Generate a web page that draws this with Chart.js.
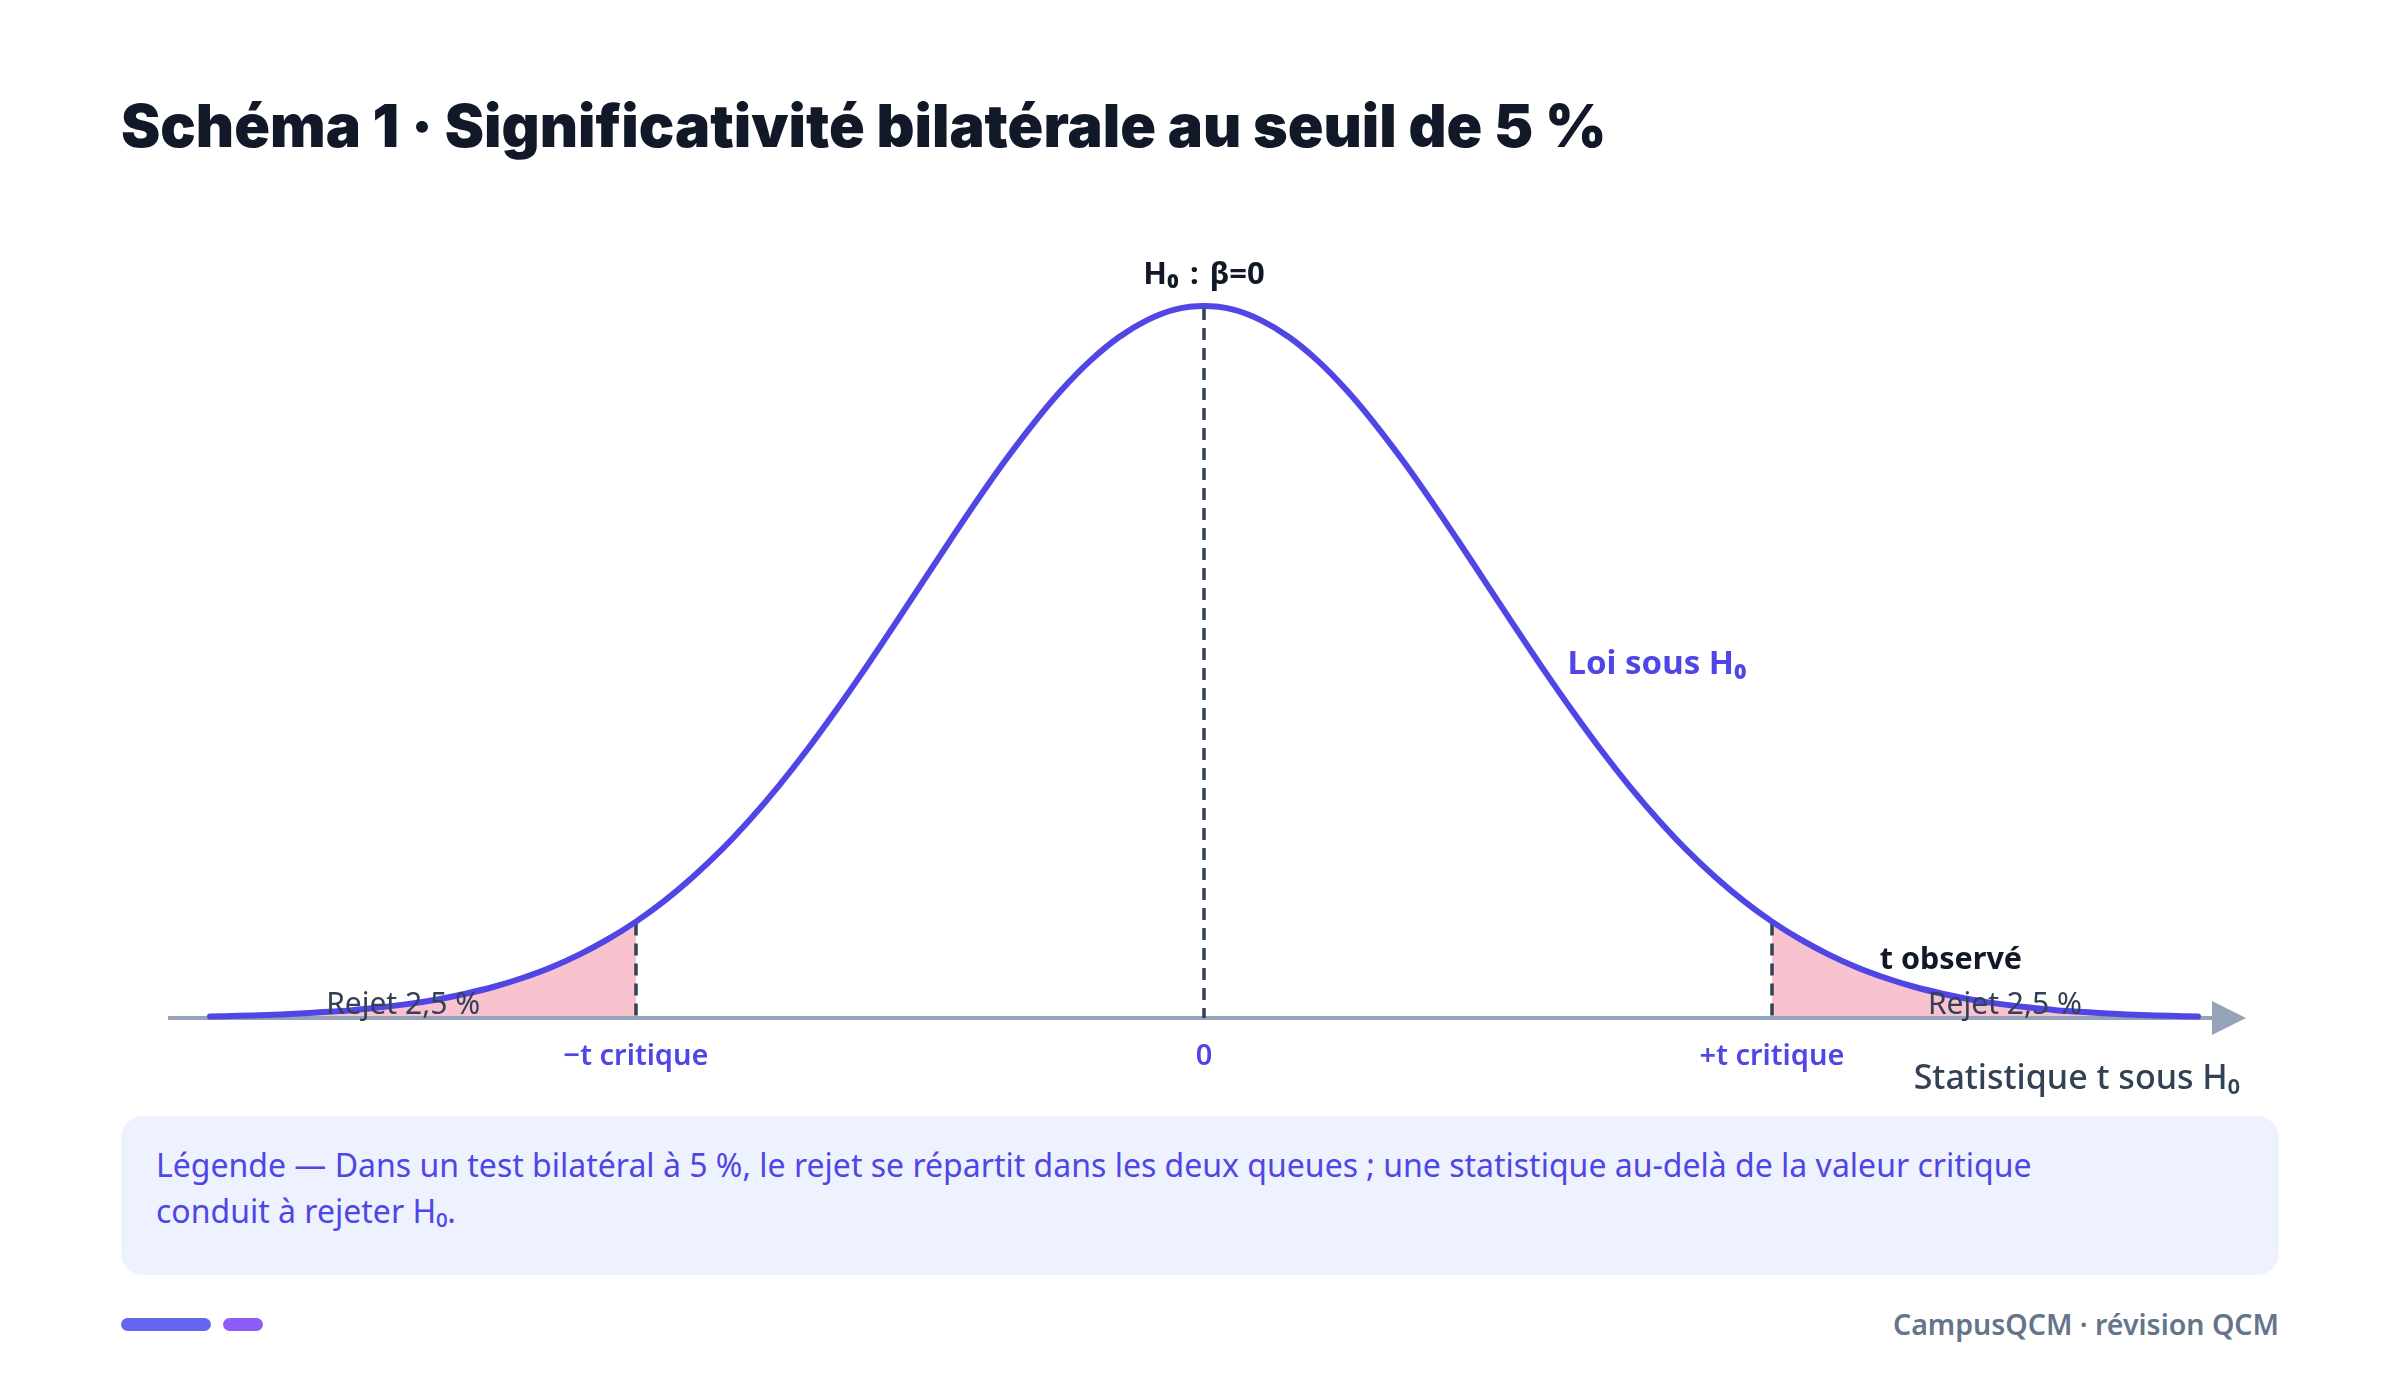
<!DOCTYPE html>
<html lang="fr">
<head>
<meta charset="utf-8">
<script src="https://cdn.jsdelivr.net/npm/chart.js@4.4.1/dist/chart.umd.min.js"></script>
<style>
  html, body { margin: 0; padding: 0; background: #ffffff; }
  body { width: 2400px; height: 1385px; position: relative; overflow: hidden; font-family: "Noto Sans", "Open Sans", sans-serif; }
  #title { position: absolute; left: 121px; top: 91px; font-family: Inter, "Noto Sans", sans-serif; font-weight: 900; font-size: 59px; line-height: 70px; color: #111827; white-space: nowrap; letter-spacing: 0px; }
  #wrap { position: absolute; left: 0; top: 0; width: 2400px; height: 1100px; }
  .lbl { position: absolute; white-space: nowrap; line-height: 1; }
  #legend { position: absolute; left: 121px; top: 1116px; width: 2158px; height: 159px; background: #EEF2FF; border-radius: 22px; box-sizing: border-box; padding: 26px 35px 0 35px; color: #4F46E5; font-size: 32px; line-height: 46px; }
  .pill { position: absolute; top: 1318px; height: 13px; border-radius: 7px; }
  #footer { position: absolute; right: 121px; top: 1306px; font-size: 28.5px; line-height: 36px; font-weight: 600; color: #64748B; white-space: nowrap; }
</style>
</head>
<body>
<div id="title">Schéma 1 · Significativité bilatérale au seuil de 5 %</div>
<div id="wrap"><canvas id="c" width="2400" height="1100"></canvas></div>
<div id="legend">Légende — Dans un test bilatéral à 5 %, le rejet se répartit dans les deux queues ; une statistique au-delà de la valeur critique<br>conduit à rejeter H₀.</div>
<div class="pill" style="left:121px;width:90px;background:#6366F1;"></div>
<div class="pill" style="left:223px;width:40px;background:#8B5CF6;"></div>
<div id="footer">CampusQCM · révision QCM</div>
<script>
// ---- data ----
const tValues = [-3.5,-3.4,-3.3,-3.2,-3.1,-3.0,-2.9,-2.8,-2.7,-2.6,-2.5,-2.4,-2.3,-2.2,-2.1,-2.0,-1.9,-1.8,-1.7,-1.6,-1.5,-1.4,-1.3,-1.2,-1.1,-1.0,-0.9,-0.8,-0.7,-0.6,-0.5,-0.4,-0.3,-0.2,-0.1,0.0,0.1,0.2,0.3,0.4,0.5,0.6,0.7,0.8,0.9,1.0,1.1,1.2,1.3,1.4,1.5,1.6,1.7,1.8,1.9,2.0,2.1,2.2,2.3,2.4,2.5,2.6,2.7,2.8,2.9,3.0,3.1,3.2,3.3,3.4,3.5];
const density = [0.0009,0.0012,0.0017,0.0024,0.0033,0.0044,0.0060,0.0079,0.0104,0.0136,0.0175,0.0224,0.0283,0.0355,0.0440,0.0540,0.0656,0.0790,0.0940,0.1109,0.1295,0.1497,0.1714,0.1942,0.2179,0.2420,0.2661,0.2897,0.3123,0.3332,0.3521,0.3683,0.3814,0.3910,0.3970,0.3989,0.3970,0.3910,0.3814,0.3683,0.3521,0.3332,0.3123,0.2897,0.2661,0.2420,0.2179,0.1942,0.1714,0.1497,0.1295,0.1109,0.0940,0.0790,0.0656,0.0540,0.0440,0.0355,0.0283,0.0224,0.0175,0.0136,0.0104,0.0079,0.0060,0.0044,0.0033,0.0024,0.0017,0.0012,0.0009];
const tickValues = [-2.0, 0.0, 2.0];
const tickLabels = ["\u2212t critique", "0", "+t critique"];
const tCritical = 2.0;
const tObserved = 2.63;
const rejectLabelT = [-2.82, 2.82];

const curve = tValues.map((t, i) => ({ x: t, y: density[i] }));
const leftTail = curve.filter(p => p.x <= -tCritical + 1e-9);
const rightTail = curve.filter(p => p.x >= tCritical - 1e-9);
const yAt = t => { const i = tValues.findIndex(v => Math.abs(v - t) < 1e-9); return density[i]; };

const C = { line: '#4F46E5', axis: '#94A3B8', dash: '#334155', fill: 'rgba(244,143,168,0.55)' };

function addLabel(text, styles) {
  const d = document.createElement('div');
  d.className = 'lbl';
  d.textContent = text;
  Object.assign(d.style, styles);
  document.getElementById('wrap').appendChild(d);
  return d;
}

const decor = {
  id: 'decor',
  beforeDatasetDraw(chart, args) {
    if (args.index !== 0) return;
    const { ctx } = chart; const xs = chart.scales.x, ys = chart.scales.y;
    const y0 = ys.getPixelForValue(0);
    const left = xs.getPixelForValue(tValues[0]) - 42;
    const tip = xs.getPixelForValue(tValues[tValues.length - 1]) + 48;
    ctx.save();
    ctx.strokeStyle = C.axis; ctx.lineWidth = 4;
    ctx.beginPath(); ctx.moveTo(left, y0); ctx.lineTo(tip - 30, y0); ctx.stroke();
    ctx.fillStyle = C.axis;
    ctx.beginPath(); ctx.moveTo(tip, y0); ctx.lineTo(tip - 34, y0 - 17); ctx.lineTo(tip - 34, y0 + 17); ctx.closePath(); ctx.fill();
    ctx.strokeStyle = C.dash; ctx.lineWidth = 3.5; ctx.setLineDash([12, 8]);
    tickValues.forEach(t => {
      const x = xs.getPixelForValue(t);
      ctx.beginPath(); ctx.moveTo(x, ys.getPixelForValue(yAt(t)) + 2); ctx.lineTo(x, y0); ctx.stroke();
    });
    ctx.restore();
  },
  afterRender(chart) {
    if (chart._lblDone) return; chart._lblDone = true;
    const xs = chart.scales.x, ys = chart.scales.y;
    const px = t => xs.getPixelForValue(t), py = v => ys.getPixelForValue(v);
    const y0 = py(0);
    tickValues.forEach((t, i) => addLabel(tickLabels[i], { left: px(t) + 'px', top: (y0 + 35) + 'px', transform: 'translate(-50%,-50%)', color: '#4F46E5', fontWeight: '600', fontSize: '29px' }));
    addLabel('H\u2080 : \u03B2=0', { left: px(0) + 'px', top: (py(yAt(0)) - 34) + 'px', transform: 'translate(-50%,-50%)', color: '#111827', fontWeight: '700', fontSize: '31px', wordSpacing: '3px' });
    addLabel('Loi sous H\u2080', { left: px(1.28) + 'px', top: py(0.2) + 'px', transform: 'translate(0,-50%)', color: '#4F46E5', fontWeight: '700', fontSize: '33px' });
    addLabel('t observé', { left: px(tObserved) + 'px', top: py(0.034) + 'px', transform: 'translate(-50%,-50%)', color: '#111827', fontWeight: '700', fontSize: '30.5px' });
    rejectLabelT.forEach(t => addLabel('Rejet 2,5 %', { left: px(t) + 'px', top: (y0 - 15) + 'px', transform: 'translate(-50%,-50%)', color: '#334155', fontWeight: '400', fontSize: '30px' }));
    addLabel('Statistique t sous H\u2080', { left: (px(tValues[tValues.length - 1]) + 42) + 'px', top: (y0 + 58) + 'px', transform: 'translate(-100%,-50%)', color: '#334155', fontWeight: '500', fontSize: '34px' });
  }
};

new Chart(document.getElementById('c'), {
  type: 'line',
  data: {
    datasets: [
      { data: curve, borderColor: C.line, borderWidth: 6, pointRadius: 0, tension: 0.3, fill: false, clip: false, borderCapStyle: 'round', borderJoinStyle: 'round' },
      { data: leftTail, borderWidth: 0, borderColor: 'rgba(0,0,0,0)', backgroundColor: C.fill, pointRadius: 0, tension: 0.3, fill: 'origin', clip: false },
      { data: rightTail, borderWidth: 0, borderColor: 'rgba(0,0,0,0)', backgroundColor: C.fill, pointRadius: 0, tension: 0.3, fill: 'origin', clip: false }
    ]
  },
  options: {
    responsive: false,
    animation: false,
    events: [],
    layout: { padding: { left: 210, right: 202, top: 306, bottom: 82 } },
    scales: {
      x: { type: 'linear', min: -3.5, max: 3.5, display: false },
      y: { min: 0, max: 0.3989, display: false }
    },
    plugins: { legend: { display: false }, tooltip: { enabled: false } }
  },
  plugins: [decor]
});
</script>
</body>
</html>
